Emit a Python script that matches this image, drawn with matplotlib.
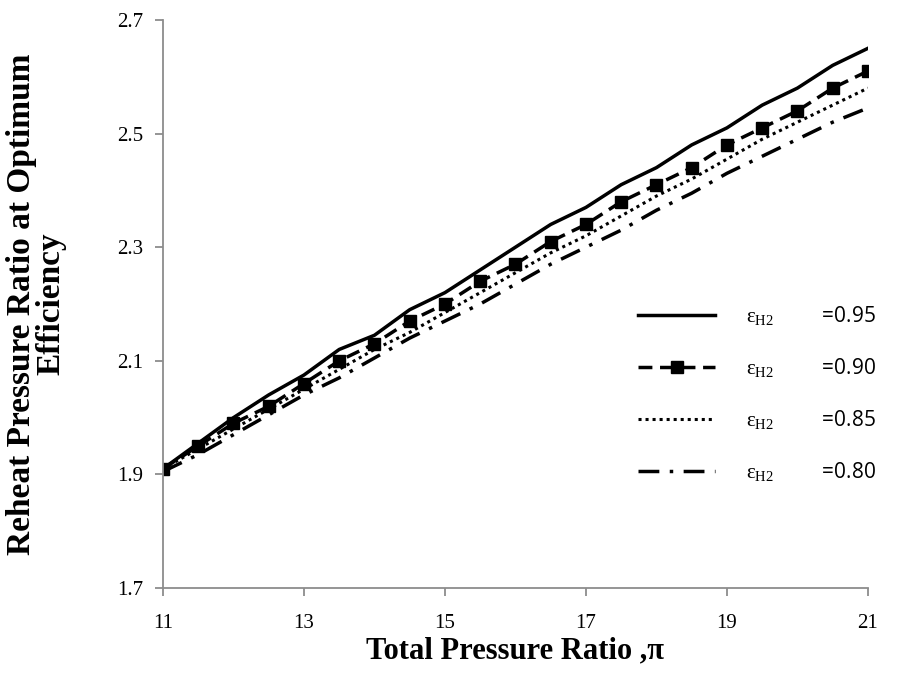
import numpy as np
import matplotlib.pyplot as plt

# ============================
# Data
# ============================
pi_ratio = [11, 11.5, 12, 12.5, 13, 13.5, 14, 14.5, 15, 15.5, 16,
            16.5, 17, 17.5, 18, 18.5, 19, 19.5, 20, 20.5, 21]

eff_095 = [1.91, 1.955, 2.0, 2.04, 2.075, 2.12, 2.145, 2.19, 2.22, 2.26, 2.30,
           2.34, 2.37, 2.41, 2.44, 2.48, 2.51, 2.55, 2.58, 2.62, 2.65]
eff_090 = [1.91, 1.95, 1.99, 2.02, 2.06, 2.10, 2.13, 2.17, 2.20, 2.24, 2.27,
           2.31, 2.34, 2.38, 2.41, 2.44, 2.48, 2.51, 2.54, 2.58, 2.61]
eff_085 = [1.91, 1.945, 1.98, 2.015, 2.05, 2.085, 2.12, 2.15, 2.185, 2.22, 2.255,
           2.29, 2.32, 2.355, 2.39, 2.42, 2.455, 2.49, 2.52, 2.55, 2.58]
eff_080 = [1.905, 1.935, 1.97, 2.005, 2.04, 2.07, 2.105, 2.14, 2.17, 2.20, 2.235,
           2.27, 2.30, 2.33, 2.365, 2.395, 2.43, 2.46, 2.49, 2.52, 2.545]

labels = ["=0.95", "=0.90", "=0.85", "=0.80"]
x_ticks = [11, 13, 15, 17, 19, 21]
y_ticks = [1.7, 1.9, 2.1, 2.3, 2.5, 2.7]

# ============================
# Figure
# ============================
plt.rcParams['mathtext.fontset'] = 'custom'
plt.rcParams['mathtext.rm'] = 'Liberation Serif'
plt.rcParams['mathtext.it'] = 'Liberation Serif'

fig = plt.figure(figsize=(8.98, 6.87), dpi=100)
ax = fig.add_axes([0.1815, 0.144, 0.785, 0.827])

eps = r'$\varepsilon_{\mathrm{H2}}$'
gap = '         '
ax.plot(pi_ratio, eff_095, '-', color='black', lw=2.5,
        label=eps + gap + labels[0])
ax.plot(pi_ratio, eff_090, color='black', lw=2.5, ls=(0, (4, 2.2)),
        marker='s', markersize=9, label=eps + gap + labels[1])
ax.plot(pi_ratio, eff_085, color='black', lw=2.2, ls=(0, (1, 1.3)),
        label=eps + gap + labels[2])
ax.plot(pi_ratio, eff_080, color='black', lw=2.5, ls=(0, (6, 3, 1, 3)),
        label=eps + gap + labels[3])

ax.set_xlim(11, 21)
ax.set_ylim(1.7, 2.7)
ax.set_xticks(x_ticks)
ax.set_yticks(y_ticks)
ax.set_yticklabels([f"{v:.1f}" for v in y_ticks])

for s in ['top', 'right']:
    ax.spines[s].set_visible(False)
for s in ['left', 'bottom']:
    ax.spines[s].set_color('#8c8c8c')
    ax.spines[s].set_linewidth(1.3)

ax.tick_params(axis='both', direction='out', color='#8c8c8c', width=1.3,
               length=6, labelsize=15)
ax.tick_params(axis='x', pad=13)
ax.tick_params(axis='y', pad=8)
for lab in ax.get_xticklabels() + ax.get_yticklabels():
    lab.set_family('Liberation Serif')

ax.set_xlabel("Total Pressure Ratio ,π", family='Liberation Serif',
              fontsize=22, fontweight='bold', labelpad=2)
ax.set_ylabel("Reheat Pressure Ratio at Optimum\nEfficiency",
              family='Liberation Serif', fontsize=24, fontweight='bold',
              linespacing=0.95)
ax.yaxis.set_label_coords(-0.137, 0.5)

leg = ax.legend(loc='upper left', bbox_to_anchor=(0.662, 0.515), frameon=False,
                borderaxespad=0, handlelength=3.7, labelspacing=1.4,
                handletextpad=1.5,
                prop={'family': 'Open Sans', 'size': 15})

fig.savefig("out.png", dpi=100)
